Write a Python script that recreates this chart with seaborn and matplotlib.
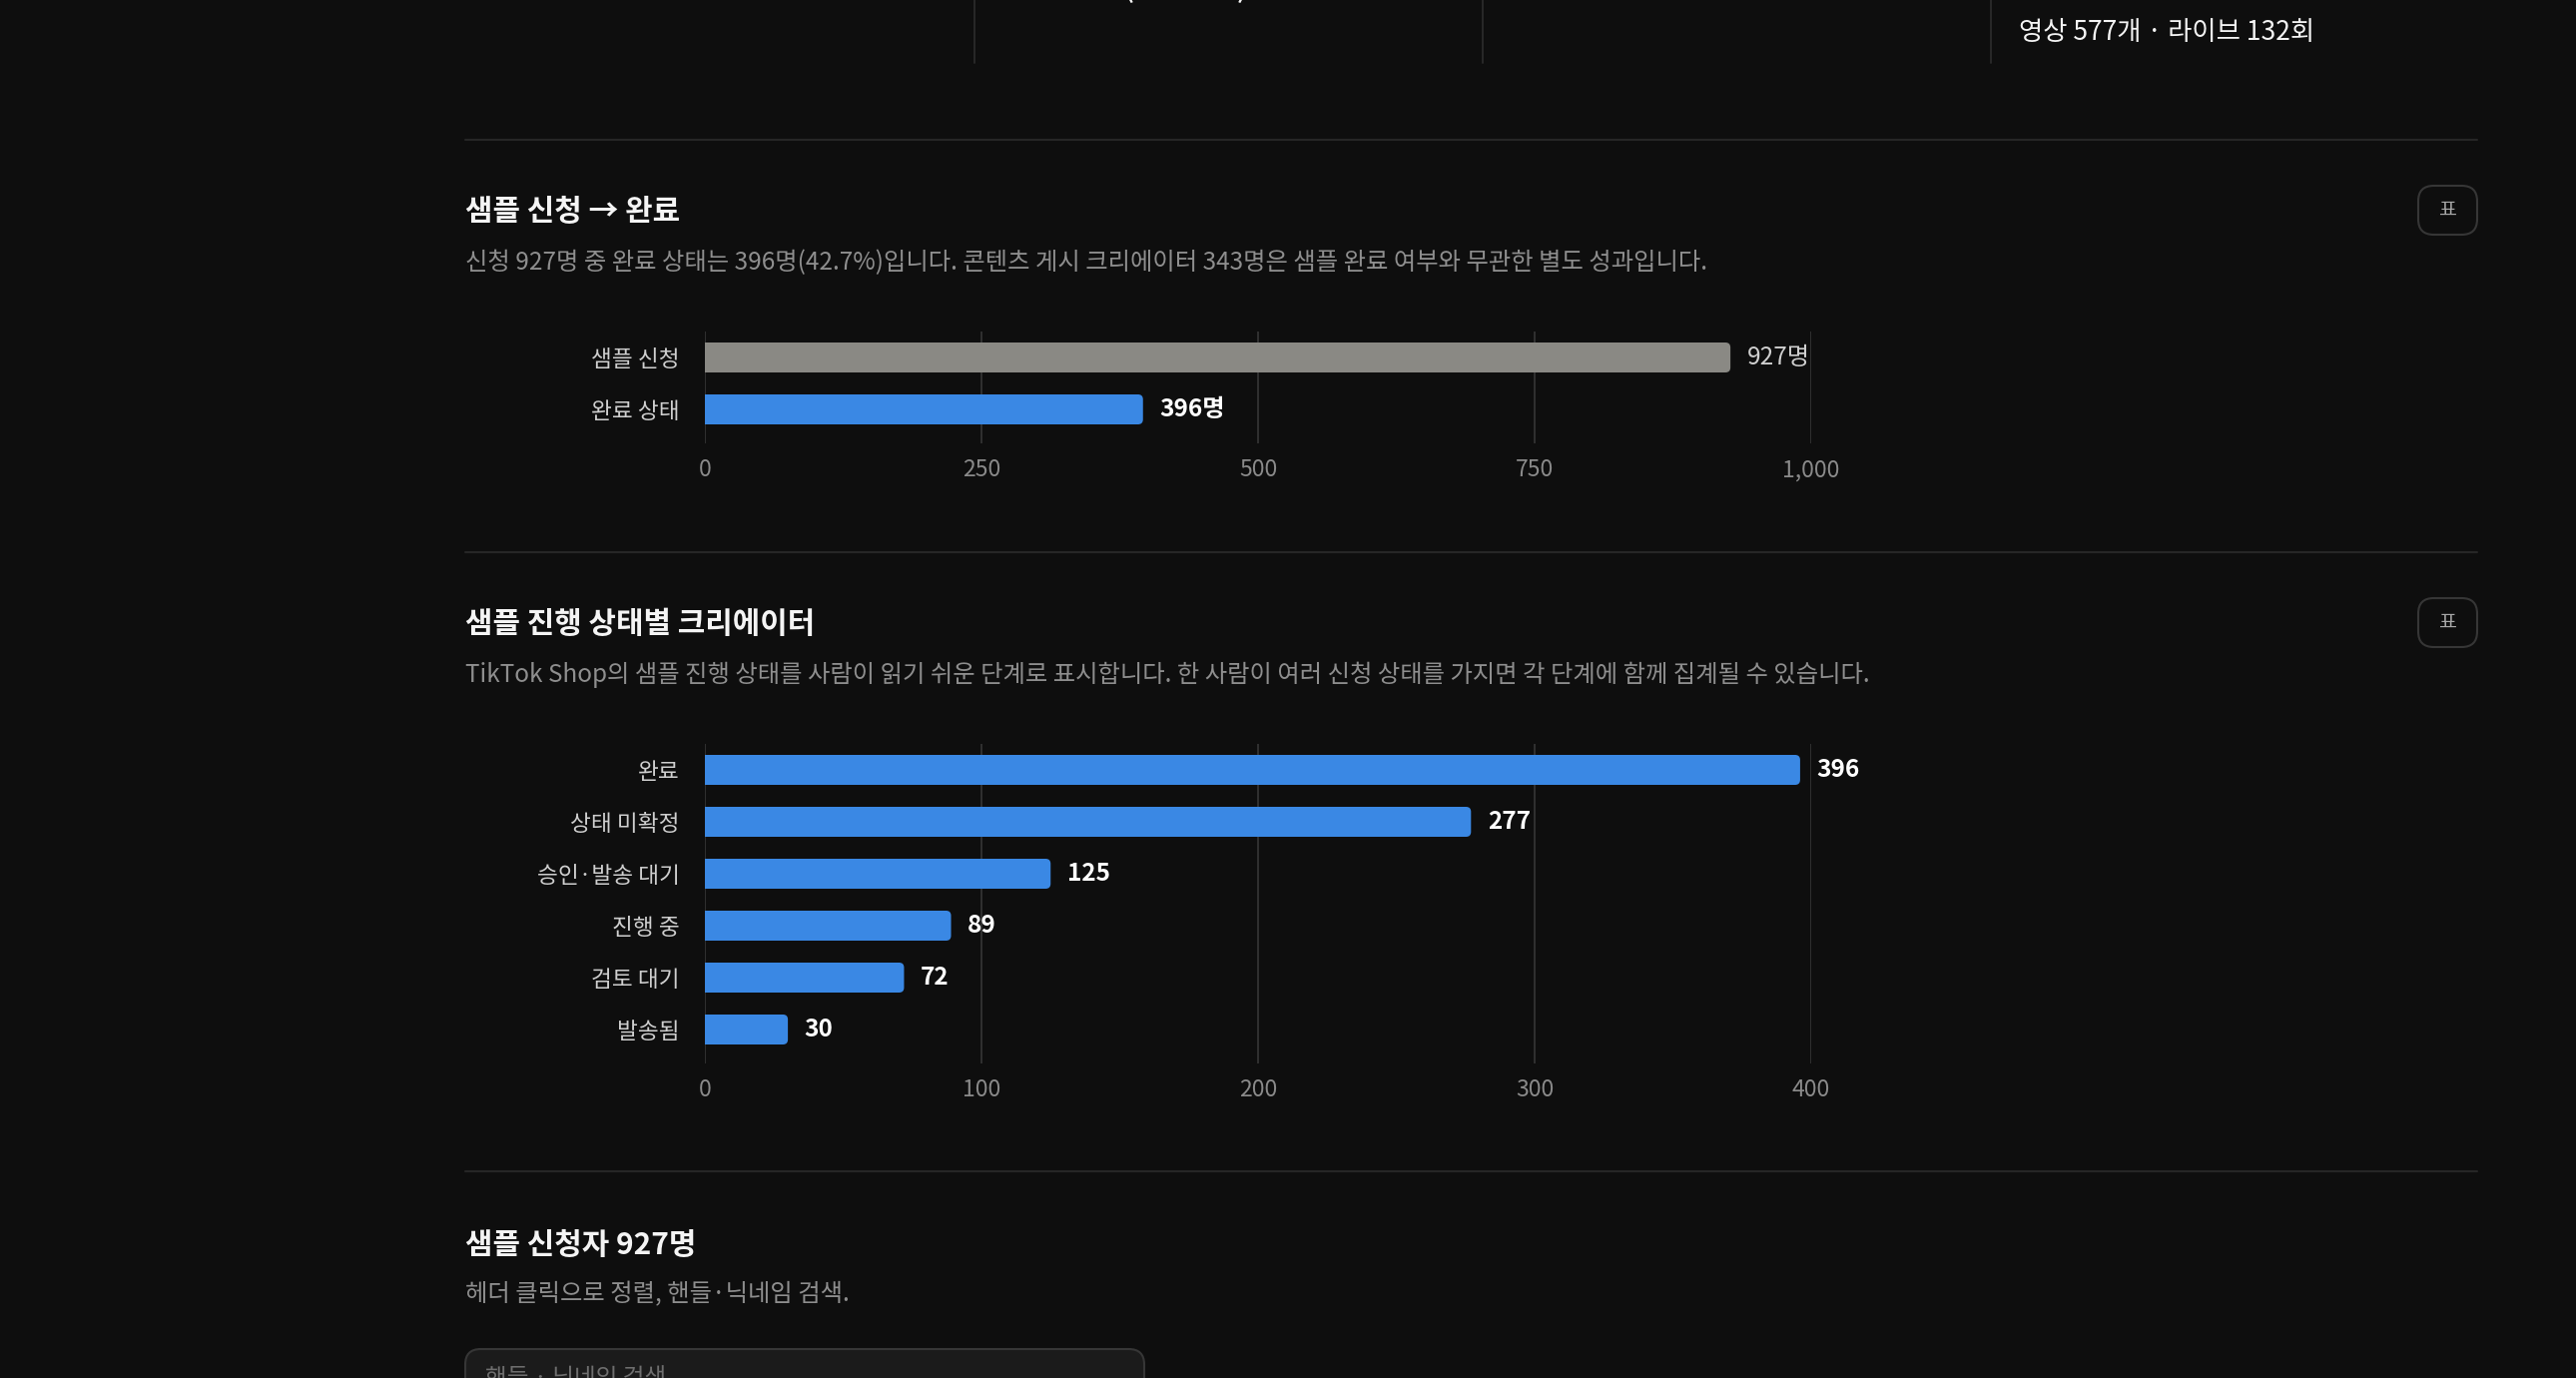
import matplotlib
matplotlib.use("Agg")
import matplotlib.pyplot as plt
from matplotlib.patches import FancyBboxPatch
from matplotlib.lines import Line2D
import seaborn as sns
import pandas as pd

# ---------------- data ----------------
funnel_labels = ["샘플 신청", "완료 상태"]
funnel_values = [927, 396]
funnel_ticks = [0, 250, 500, 750, 1000]

status_labels = ["완료", "상태 미확정", "승인·발송 대기", "진행 중", "검토 대기", "발송됨"]
status_values = [396, 277, 125, 89, 72, 30]
status_ticks = [0, 100, 200, 300, 400]

title1 = "샘플 신청 → 완료"
sub1 = "신청 927명 중 완료 상태는 396명(42.7%)입니다. 콘텐츠 게시 크리에이터 343명은 샘플 완료 여부와 무관한 별도 성과입니다."
title2 = "샘플 진행 상태별 크리에이터"
sub2 = "TikTok Shop의 샘플 진행 상태를 사람이 읽기 쉬운 단계로 표시합니다. 한 사람이 여러 신청 상태를 가지면 각 단계에 함께 집계될 수 있습니다."
title3 = "샘플 신청자 927명"
sub3 = "헤더 클릭으로 정렬, 핸들·닉네임 검색."
top_text = "영상 577개 · 라이브 132회"
search_placeholder = "핸들 · 닉네임 검색"

# ---------------- style ----------------
BG = "#0e0e0e"
GRID = "#333333"
SEP = "#262626"
BLUE = "#3a88e4"
GRAY_BAR = "#8a8984"
TITLE_C = "#f4f4f4"
SUB_C = "#8e8e8e"
YTICK_C = "#cfcfcf"
XTICK_C = "#8a8a8a"

sns.set_theme(style="dark")
plt.rcParams["font.family"] = ["Noto Sans CJK KR", "DejaVu Sans"]

W, H = 2580, 1380
fig = plt.figure(figsize=(W / 100, H / 100), dpi=100, facecolor=BG)


def fx(x):
    return x / W


def fy(y):
    return 1 - y / H


def axes_px(left, top, right, bottom):
    return fig.add_axes([fx(left), fy(bottom), (right - left) / W, (bottom - top) / H])


# ---------------- top strip ----------------
for xv in [976, 1485, 1994]:
    fig.add_artist(Line2D([fx(xv), fx(xv)], [fy(0), fy(63)], color="#2a2a2a", lw=1.3))
fig.text(fx(2022), fy(33), top_text, color=TITLE_C, fontsize=19, va="center", ha="left")
fig.text(fx(1124), fy(-4), "(42.7%)", color=TITLE_C, fontsize=26, va="baseline", ha="left")

# separators
for yv in [140, 553, 1173]:
    fig.add_artist(Line2D([fx(466), fx(2481)], [fy(yv), fy(yv)], color=SEP, lw=1.5))


def header(title, sub, ty, sy, button_top=None):
    fig.text(fx(466), fy(ty), title, color=TITLE_C, fontsize=21.5, fontweight="bold",
             va="center", ha="left")
    fig.text(fx(466), fy(sy), sub, color=SUB_C, fontsize=17.5, va="center", ha="left")
    if button_top is not None:
        bx0, bx1 = 2422, 2481
        by0, by1 = button_top, button_top + 49
        box = FancyBboxPatch((fx(bx0), fy(by1)), (bx1 - bx0) / W, (by1 - by0) / H,
                             boxstyle="round,pad=0,rounding_size=0.006",
                             mutation_aspect=W / H,
                             transform=fig.transFigure, facecolor="none",
                             edgecolor="#363636", lw=1.5)
        fig.add_artist(box)
        fig.text(fx((bx0 + bx1) / 2), fy((by0 + by1) / 2), "표", color="#a8a8a8",
                 fontsize=14, va="center", ha="center")


header(title1, sub1, 212, 263, 186)
header(title2, sub2, 625, 676, 599)
header(title3, sub3, 1247, 1296)


def style_axes(ax, ticks, n):
    ax.set_facecolor(BG)
    ax.set_xlim(ticks[0], ticks[-1])
    ax.set_ylim(n - 1 + 0.654, -0.5)
    ax.set_xticks(ticks)
    ax.set_xticklabels([f"{t:,}" for t in ticks])
    ax.grid(axis="x", color=GRID, lw=1.3)
    ax.grid(axis="y", visible=False)
    ax.set_axisbelow(True)
    for s in ax.spines.values():
        s.set_visible(False)
    ax.tick_params(axis="x", colors=XTICK_C, labelsize=16.5, length=0, pad=11)
    ax.tick_params(axis="y", colors=YTICK_C, labelsize=16.3, length=0, pad=18)
    ax.set_xlabel("")
    ax.set_ylabel("")


def round_bars(ax, radius_px=5):
    """Give the seaborn bars rounded right ends (left end stays square)."""
    fig.canvas.draw()
    x0, x1 = ax.get_xlim()
    y0, y1 = ax.get_ylim()
    bb = ax.get_window_extent()
    ux = (x1 - x0) / bb.width          # data units per pixel in x
    uy = abs(y1 - y0) / bb.height      # data units per pixel in y
    aspect = uy / ux
    for p in list(ax.patches):
        x, y, w, h = p.get_x(), p.get_y(), p.get_width(), p.get_height()
        fc = p.get_facecolor()
        rb = FancyBboxPatch((x, y), w, h,
                            boxstyle=f"round,pad=0,rounding_size={radius_px * ux}",
                            mutation_aspect=aspect, facecolor=fc, edgecolor="none",
                            lw=0, zorder=p.get_zorder())
        ax.add_patch(rb)
        p.set_width(w / 2)
        p.set_linewidth(0)
        p.set_edgecolor("none")


# ---------------- chart 1 ----------------
ax1 = axes_px(706, 332, 1814, 444)
df1 = pd.DataFrame({"label": funnel_labels, "value": funnel_values})
sns.barplot(data=df1, x="value", y="label", hue="label",
            palette={funnel_labels[0]: GRAY_BAR, funnel_labels[1]: BLUE},
            orient="h", width=0.577, legend=False, ax=ax1, saturation=1,
            linewidth=0, edgecolor="none")
style_axes(ax1, funnel_ticks, len(funnel_labels))
round_bars(ax1)
for i, (lab, v) in enumerate(zip(funnel_labels, funnel_values)):
    if i == 0:
        col, fw = "#cfcfcf", "normal"
    else:
        col, fw = "#ffffff", "bold"
    ax1.annotate(f"{v}명", (v, i), xytext=(12, 0), textcoords="offset points",
                 va="center", ha="left", color=col, fontsize=17.5, fontweight=fw,
                 annotation_clip=False)

# ---------------- chart 2 ----------------
ax2 = axes_px(706, 745, 1814, 1065)
df2 = pd.DataFrame({"label": status_labels, "value": status_values})
sns.barplot(data=df2, x="value", y="label", color=BLUE, orient="h", width=0.577,
            ax=ax2, saturation=1, linewidth=0, edgecolor="none")
style_axes(ax2, status_ticks, len(status_labels))
round_bars(ax2)
for i, v in enumerate(status_values):
    ax2.annotate(f"{v}", (v, i), xytext=(12, 0), textcoords="offset points",
                 va="center", ha="left", color="#ffffff", fontsize=17.5,
                 fontweight="bold", annotation_clip=False)

# ---------------- search box ----------------
sb = FancyBboxPatch((fx(466), fy(1400)), (1146 - 466) / W, (1400 - 1351) / H,
                    boxstyle="round,pad=0,rounding_size=0.006", mutation_aspect=W / H,
                    transform=fig.transFigure, facecolor="#1b1b1b",
                    edgecolor="#363636", lw=1.5)
fig.add_artist(sb)
fig.text(fx(486), fy(1369), search_placeholder, color="#6e6e6e", fontsize=17,
         va="top", ha="left")

fig.savefig("out.png", dpi=100, facecolor=BG)
